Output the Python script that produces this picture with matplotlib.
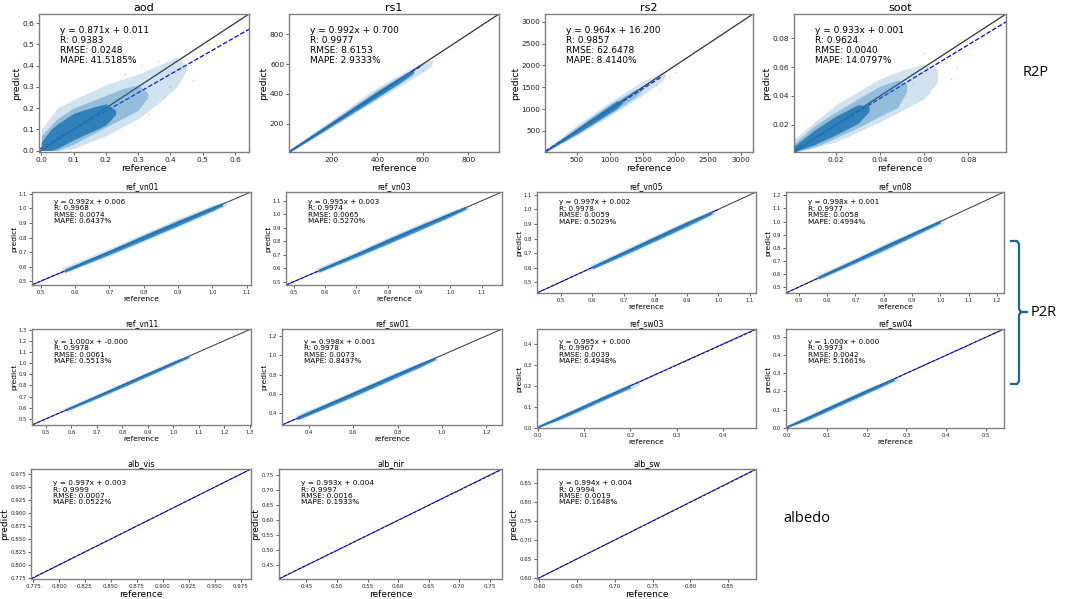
import matplotlib
matplotlib.use('Agg')
import matplotlib.pyplot as plt
from matplotlib.lines import Line2D

names = ['aod', 'rs1', 'rs2', 'soot',
         'ref_vn01', 'ref_vn03', 'ref_vn05', 'ref_vn08',
         'ref_vn11', 'ref_sw01', 'ref_sw03', 'ref_sw04',
         'alb_vis', 'alb_nir', 'alb_sw']
slopes = [0.871, 0.992, 0.964, 0.933,
          0.992, 0.995, 0.997, 0.998,
          1.000, 0.998, 0.995, 1.000,
          0.997, 0.993, 0.994]
intercepts = [0.011, 0.700, 16.200, 0.001,
              0.006, 0.003, 0.002, 0.001,
              -0.0, 0.001, 0.000, 0.000,
              0.003, 0.004, 0.004]
r_vals = [0.9383, 0.9977, 0.9857, 0.9624,
          0.9968, 0.9974, 0.9978, 0.9977,
          0.9978, 0.9978, 0.9967, 0.9973,
          0.9999, 0.9997, 0.9994]
rmse_vals = [0.0248, 8.6153, 62.6478, 0.0040,
             0.0074, 0.0065, 0.0059, 0.0058,
             0.0061, 0.0073, 0.0039, 0.0042,
             0.0007, 0.0016, 0.0019]
mape_vals = [41.5185, 2.9333, 8.4140, 14.0797,
             0.6437, 0.5270, 0.5029, 0.4994,
             0.5513, 0.8497, 6.4948, 5.1661,
             0.0522, 0.1933, 0.1648]

# axis range (same for x and y) and where the fitted line stops
axis_lo = [-0.007, 12, 15, 0.001,
           0.475, 0.475, 0.425, 0.455,
           0.445, 0.28, -0.002, -0.002,
           0.773, 0.405, 0.597]
axis_hi = [0.643, 935, 3180, 0.097,
           1.112, 1.165, 1.12, 1.225,
           1.305, 1.27, 0.472, 0.545,
           0.985, 0.77, 0.887]
fit_end = [0.643, 600, 1800, 0.097,
           1.02, 1.04, 1.0, 1.0,
           1.03, 0.97, 0.472, 0.545,
           0.985, 0.77, 0.887]

ticks = [[0.0, 0.1, 0.2, 0.3, 0.4, 0.5, 0.6],
         [200, 400, 600, 800],
         [500, 1000, 1500, 2000, 2500, 3000],
         [0.02, 0.04, 0.06, 0.08],
         [0.5, 0.6, 0.7, 0.8, 0.9, 1.0, 1.1],
         [0.5, 0.6, 0.7, 0.8, 0.9, 1.0, 1.1],
         [0.5, 0.6, 0.7, 0.8, 0.9, 1.0, 1.1],
         [0.5, 0.6, 0.7, 0.8, 0.9, 1.0, 1.1, 1.2],
         [0.5, 0.6, 0.7, 0.8, 0.9, 1.0, 1.1, 1.2, 1.3],
         [0.4, 0.6, 0.8, 1.0, 1.2],
         [0.0, 0.1, 0.2, 0.3, 0.4],
         [0.0, 0.1, 0.2, 0.3, 0.4, 0.5],
         [0.775, 0.8, 0.825, 0.85, 0.875, 0.9, 0.925, 0.95, 0.975],
         [0.45, 0.5, 0.55, 0.6, 0.65, 0.7, 0.75],
         [0.6, 0.65, 0.7, 0.75, 0.8, 0.85]]

# point cloud: dense core, medium band, sparse fringe
core_x = [[0.0, 0.03, 0.05, 0.1, 0.15, 0.2, 0.23],
          [15, 100, 200, 300, 400, 500, 540, 560],
          [20, 300, 600, 900, 1100, 1200],
          [0.001, 0.01, 0.02, 0.03, 0.035],
          [0.57, 0.7, 0.8, 0.9, 1.0, 1.03],
          [0.58, 0.7, 0.8, 0.9, 1.0, 1.05],
          [0.6, 0.7, 0.8, 0.9, 0.98],
          [0.57, 0.7, 0.8, 0.9, 1.0],
          [0.58, 0.7, 0.8, 0.9, 1.0, 1.06],
          [0.35, 0.5, 0.6, 0.7, 0.8, 0.9, 0.97],
          [0.0, 0.05, 0.1, 0.15, 0.2],
          [0.0, 0.05, 0.1, 0.15, 0.2, 0.27],
          [], [], []]
core_lo = [[0.0, 0.0, 0.01, 0.05, 0.085, 0.12, 0.17],
           [12, 92, 188, 284, 380, 476, 520, 545],
           [15, 265, 530, 820, 1010, 1150],
           [0.001, 0.006, 0.013, 0.021, 0.029],
           [0.562, 0.684, 0.782, 0.882, 0.984, 1.018],
           [0.572, 0.684, 0.782, 0.882, 0.984, 1.038],
           [0.59, 0.686, 0.784, 0.884, 0.968],
           [0.562, 0.686, 0.782, 0.884, 0.988],
           [0.572, 0.686, 0.784, 0.884, 0.986, 1.048],
           [0.335, 0.478, 0.575, 0.675, 0.778, 0.878, 0.955],
           [0.0, 0.042, 0.091, 0.141, 0.19],
           [0.0, 0.041, 0.09, 0.14, 0.19, 0.26],
           [], [], []]
core_hi = [[0.04, 0.1, 0.125, 0.175, 0.2, 0.22, 0.19],
           [22, 110, 212, 316, 418, 514, 548, 550],
           [40, 335, 660, 970, 1180, 1170],
           [0.005, 0.016, 0.026, 0.034, 0.033],
           [0.585, 0.714, 0.818, 0.918, 1.014, 1.04],
           [0.595, 0.714, 0.818, 0.918, 1.014, 1.06],
           [0.612, 0.714, 0.816, 0.916, 0.99],
           [0.586, 0.714, 0.818, 0.916, 1.012],
           [0.594, 0.714, 0.816, 0.916, 1.014, 1.07],
           [0.372, 0.522, 0.622, 0.722, 0.822, 0.918, 0.982],
           [0.009, 0.059, 0.109, 0.159, 0.208],
           [0.011, 0.061, 0.112, 0.162, 0.212, 0.277],
           [], [], []]

mid_x = [[0.0, 0.05, 0.1, 0.15, 0.2, 0.25, 0.3, 0.33],
         [15, 200, 400, 560],
         [20, 500, 1000, 1400, 1500],
         [0.001, 0.01, 0.02, 0.03, 0.04, 0.048, 0.052],
         [], [], [], [], [], [], [], [], [], [], []]
mid_lo = [[0.0, 0.0, 0.03, 0.07, 0.11, 0.15, 0.19, 0.25],
          [10, 183, 372, 530],
          [12, 420, 880, 1280, 1440],
          [0.001, 0.004, 0.011, 0.018, 0.026, 0.032, 0.043],
          [], [], [], [], [], [], [], [], [], [], []]
mid_hi = [[0.07, 0.15, 0.2, 0.23, 0.26, 0.29, 0.31, 0.27],
          [28, 220, 428, 572],
          [55, 590, 1110, 1460, 1470],
          [0.007, 0.019, 0.029, 0.038, 0.047, 0.051, 0.048],
          [], [], [], [], [], [], [], [], [], [], []]

halo_x = [[0.0, 0.05, 0.1, 0.2, 0.3, 0.36, 0.42, 0.45],
          [15, 200, 400, 600, 640],
          [20, 500, 1000, 1500, 1800, 1850],
          [0.001, 0.02, 0.04, 0.05, 0.06, 0.066],
          [0.56, 0.7, 0.8, 0.9, 1.0, 1.04],
          [0.57, 0.7, 0.8, 0.9, 1.0, 1.06],
          [0.59, 0.7, 0.8, 0.9, 0.99],
          [0.56, 0.7, 0.8, 0.9, 1.01],
          [0.57, 0.7, 0.8, 0.9, 1.0, 1.07],
          [0.34, 0.5, 0.6, 0.7, 0.8, 0.9, 0.98],
          [0.0, 0.05, 0.1, 0.15, 0.2, 0.22],
          [0.0, 0.05, 0.1, 0.15, 0.2, 0.28],
          [], [], []]
halo_lo = [[0.0, 0.0, 0.01, 0.07, 0.15, 0.22, 0.3, 0.38],
           [10, 178, 362, 545, 590],
           [10, 390, 840, 1320, 1640, 1760],
           [0.001, 0.008, 0.022, 0.03, 0.038, 0.05],
           [0.548, 0.672, 0.772, 0.872, 0.975, 1.018],
           [0.556, 0.672, 0.772, 0.872, 0.975, 1.04],
           [0.578, 0.675, 0.775, 0.875, 0.968],
           [0.546, 0.675, 0.772, 0.875, 0.985],
           [0.556, 0.675, 0.775, 0.875, 0.978, 1.05],
           [0.318, 0.468, 0.562, 0.662, 0.765, 0.865, 0.95],
           [0.0, 0.036, 0.085, 0.135, 0.184, 0.205],
           [0.0, 0.035, 0.083, 0.133, 0.183, 0.262],
           [], [], []]
halo_hi = [[0.1, 0.2, 0.24, 0.31, 0.36, 0.4, 0.44, 0.4],
           [32, 230, 445, 615, 625],
           [70, 630, 1160, 1640, 1850, 1790],
           [0.01, 0.034, 0.052, 0.058, 0.062, 0.058],
           [0.592, 0.726, 0.83, 0.93, 1.025, 1.05],
           [0.6, 0.726, 0.83, 0.93, 1.025, 1.07],
           [0.618, 0.725, 0.825, 0.925, 1.005],
           [0.592, 0.725, 0.83, 0.925, 1.025],
           [0.6, 0.725, 0.825, 0.925, 1.025, 1.08],
           [0.382, 0.535, 0.635, 0.735, 0.835, 0.93, 0.995],
           [0.012, 0.064, 0.114, 0.164, 0.214, 0.228],
           [0.016, 0.066, 0.118, 0.168, 0.218, 0.285],
           [], [], []]

# a few scattered outliers in the top row
outlier_x = [[0.26, 0.29, 0.31, 0.33, 0.36, 0.38, 0.4, 0.43, 0.45, 0.5, 0.52, 0.47],
             [560, 600, 640, 660],
             [1700, 1800, 1900, 1750, 2000],
             [0.055, 0.06, 0.065, 0.07, 0.072, 0.075, 0.062],
             [], [], [], [], [], [], [], [], [], [], []]
outlier_y = [[0.36, 0.12, 0.4, 0.17, 0.42, 0.25, 0.3, 0.38, 0.48, 0.45, 0.5, 0.33],
             [600, 560, 620, 640],
             [1550, 1900, 1750, 1450, 1850],
             [0.048, 0.07, 0.058, 0.063, 0.052, 0.06, 0.042],
             [], [], [], [], [], [], [], [], [], [], []]

W, H = 1065, 599
# panel boxes in pixels: left, right, top, bottom
boxes = [(39, 249, 14, 152), (289, 499, 14, 152), (545, 753, 14, 152), (794, 1006, 14, 152),
         (32, 251, 192, 285), (286, 502, 192, 285), (537, 756, 192, 293), (786, 1004, 192, 293),
         (32, 251, 329, 425), (282, 502, 329, 425), (537, 756, 329, 428), (786, 1004, 329, 428),
         (31, 251, 469, 579), (279, 502, 469, 579), (537, 756, 469, 579)]
rows = [0, 0, 0, 0, 1, 1, 1, 1, 2, 2, 2, 2, 3, 3, 3]
title_fs = [8.0, 5.5, 5.5, 5.8]
label_fs = [6.8, 5.4, 5.4, 6.5]
tick_fs = [5.3, 3.8, 3.8, 4.0]
stat_fs = [6.5, 5.2, 5.2, 5.3]
stat_y = [0.91, 0.93, 0.9, 0.9]

blue = '#1f77b4'
fig = plt.figure(figsize=(W / 100, H / 100), dpi=100)

for i, name in enumerate(names):
    l, r, t, b = boxes[i]
    row = rows[i]
    ax = fig.add_axes([l / W, 1 - b / H, (r - l) / W, (b - t) / H])
    lo, hi = axis_lo[i], axis_hi[i]
    lw = 0.9 if row == 0 else 0.7
    ax.plot([lo, hi], [lo, hi], color='#333333', lw=lw, zorder=1)
    ax.plot([lo, fit_end[i]],
            [slopes[i] * lo + intercepts[i], slopes[i] * fit_end[i] + intercepts[i]],
            '--', color='blue', lw=lw, zorder=2)
    if halo_x[i]:
        ax.fill_between(halo_x[i], halo_lo[i], halo_hi[i], color=blue, alpha=0.2, lw=0, zorder=3)
    if mid_x[i]:
        ax.fill_between(mid_x[i], mid_lo[i], mid_hi[i], color=blue, alpha=0.35, lw=0, zorder=3)
    if core_x[i]:
        ax.fill_between(core_x[i], core_lo[i], core_hi[i], color=blue, alpha=0.85, lw=0, zorder=4)
    if outlier_x[i]:
        ax.scatter(outlier_x[i], outlier_y[i], s=1.5, color=blue, alpha=0.25, lw=0, zorder=3)
    ax.set_xlim(lo, hi)
    ax.set_ylim(lo, hi)
    ax.set_xticks(ticks[i])
    ax.set_yticks(ticks[i])
    ax.tick_params(labelsize=tick_fs[row], length=2, width=0.5, pad=1.5, colors='#222222')
    for s in ax.spines.values():
        s.set_color('#808080')
        s.set_linewidth(1.0)
    ax.set_title(name, fontsize=title_fs[row], pad=2)
    ax.set_xlabel('reference', fontsize=label_fs[row], labelpad=1)
    ax.set_ylabel('predict', fontsize=label_fs[row], labelpad=1)
    txt = (f'y = {slopes[i]:.3f}x + {intercepts[i]:.3f}\n'
           f'R: {r_vals[i]:.4f}\n'
           f'RMSE: {rmse_vals[i]:.4f}\n'
           f'MAPE: {mape_vals[i]:.4f}%')
    ax.text(0.1, stat_y[row], txt, transform=ax.transAxes, fontsize=stat_fs[row],
            va='top', ha='left', linespacing=1.1, zorder=5)

# group labels on the right
fig.text(1023 / W, 1 - 72 / H, 'R2P', fontsize=10.5, family='Open Sans', va='center')
fig.text(1031 / W, 1 - 312 / H, 'P2R', fontsize=10.5, family='Open Sans', va='center')
fig.text(783 / W, 1 - 518 / H, 'albedo', fontsize=10.5, family='Open Sans', va='center')

bx = [1011, 1017, 1019, 1019, 1021, 1027, 1021, 1019, 1019, 1017, 1011]
by = [241, 241, 244, 309, 312, 312, 312, 315, 381, 384, 384]
fig.add_artist(Line2D([x / W for x in bx], [1 - y / H for y in by],
                      color='#1b6593', lw=1.6, transform=fig.transFigure))

fig.savefig('out.png', dpi=100)
